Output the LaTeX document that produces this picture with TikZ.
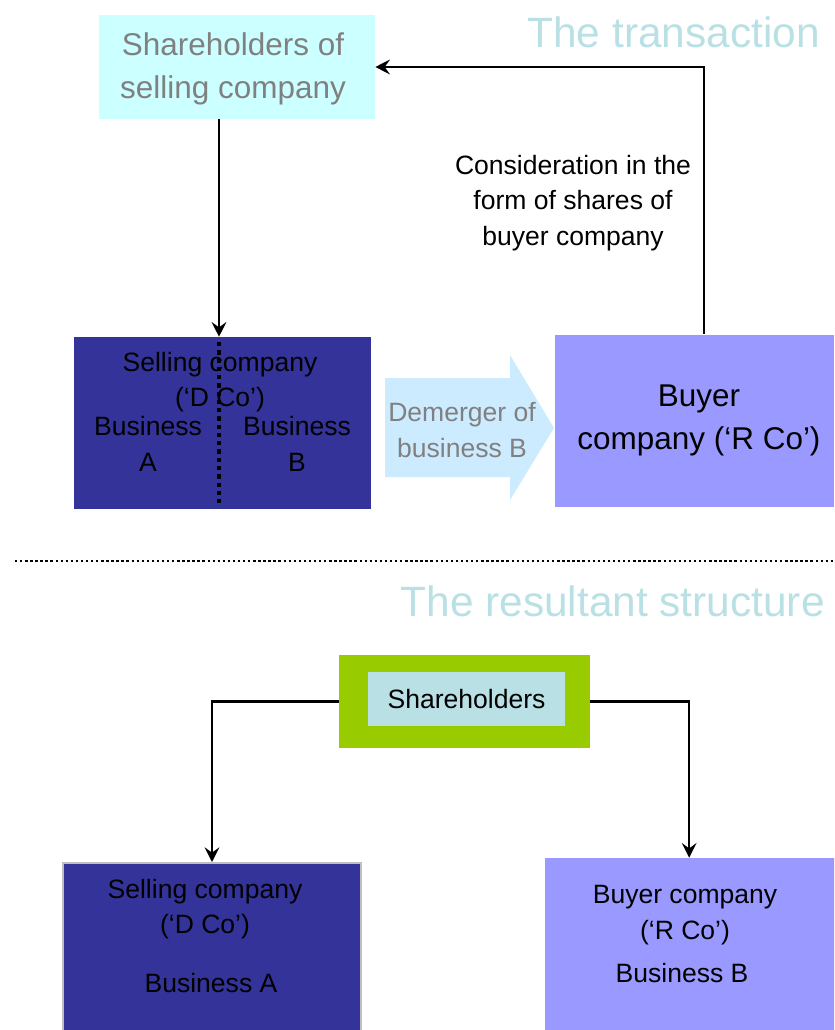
\documentclass[tikz,border=0pt]{standalone}
\usepackage{fontspec}
\setmainfont{Liberation Sans}
\usetikzlibrary{arrows.meta}
\definecolor{headteal}{HTML}{B9E0E4}
\definecolor{paleCyan}{HTML}{CCFFFF}
\definecolor{dcoBlue}{HTML}{333399}
\definecolor{rcoLilac}{HTML}{9999FF}
\definecolor{demBlue}{HTML}{CCEBFF}
\definecolor{shGreen}{HTML}{99CC00}
\definecolor{shInner}{HTML}{B8E0E5}
\definecolor{softGray}{HTML}{808080}
\tikzset{
  x=0.75pt, y=-0.75pt,
  box/.style={rectangle, inner sep=0pt, draw=none},
  conn/.style={line width=1.7pt, -{Stealth[length=11pt,width=11pt,inset=4pt]}},
  heading/.style={text=headteal, font=\fontsize{31.8}{36}\selectfont, anchor=east, inner sep=0pt},
  txt/.style={font=\fontsize{19.9}{26.6}\selectfont, align=center, inner sep=0pt},
  bigtxt/.style={font=\fontsize{23.6}{32.3}\selectfont, align=center, inner sep=0pt},
}
\begin{document}
\begin{tikzpicture}
\useasboundingbox (0,0) rectangle (834,1030);
\clip (0,0) rectangle (834,1030);

% ---- The transaction ----
\node[heading] (h1) at (820,32) {The transaction};

\node[box, fill=paleCyan, minimum width=207pt, minimum height=78pt] (top) at (237,67) {};
\node[bigtxt, text=softGray] (topt) at (233,69) {Shareholders of\\selling company};

\node[box, fill=dcoBlue, minimum width=222.75pt, minimum height=129pt] (sell) at (222.5,423) {};
\node[txt] (sellname) at (220,382) {Selling company\\(‘D Co’)};
\node[txt] (busA) at (148,444) {Business\\A};
\node[txt] (busB) at (297,444) {Business\\B};
\coordinate (divtop) at (219,342);
\coordinate (divbot) at (219,506);
\draw[line width=3.2pt, dash pattern=on 3.2pt off 3pt] (divtop) -- (divbot);

\node[box, fill=rcoLilac, minimum width=209.25pt, minimum height=129pt] (buyer) at (694.5,421) {};
\node[bigtxt] (buyert) at (699,420) {Buyer\\company (‘R Co’)};

% demerger arrow
\fill[demBlue] (385,378) -- (510,378) -- (510,355) -- (554,428) -- (510,500) -- (510,477) -- (385,477) -- cycle;
\node[txt, text=softGray] (dem) at (462,430) {Demerger of\\business B};

% connectors
\draw[conn] (top.south -| divtop) -- (sell.north -| divtop);
\coordinate (upstart) at (704,334);
\draw[conn] (upstart) |- (top.east);
\node[txt] (consid) at (573,203) {Consideration in the\\form of shares of\\buyer company};

% separator
\coordinate (sepL) at (15,561);
\coordinate (sepR) at (834,561);
\draw[line width=1.8pt, dash pattern=on 1.8pt off 2pt] (sepL) -- (sepR);

% ---- The resultant structure ----
\node[heading] (h2) at (825,601) {The resultant structure};

\node[box, fill=shGreen, minimum width=188.25pt, minimum height=69.75pt] (green) at (464.5,701.5) {};
\node[box, fill=shInner, minimum width=147.75pt, minimum height=40.5pt, font=\fontsize{19.9}{24}\selectfont] (sh) at (466.5,699) {Shareholders};

\node[box, fill=dcoBlue, draw=black!25, line width=1.5pt, minimum width=223.5pt, minimum height=129pt] (dco) at (212,949) {};
\node[txt] (dcot) at (205,909) {Selling company\\(‘D Co’)};
\node[txt] (dcob) at (211,983) {Business A};

\node[box, fill=rcoLilac, minimum width=221.25pt, minimum height=132.75pt] (rco) at (692.5,946.5) {};
\node[txt] (rcot) at (685,915) {Buyer company\\(‘R Co’)};
\node[txt] (rcob) at (682,973) {Business B};

\draw[conn] (green.west) -| (dco.north);
\draw[conn] (green.east) -| ([xshift=-2.5pt]rco.north);
\end{tikzpicture}
\end{document}
